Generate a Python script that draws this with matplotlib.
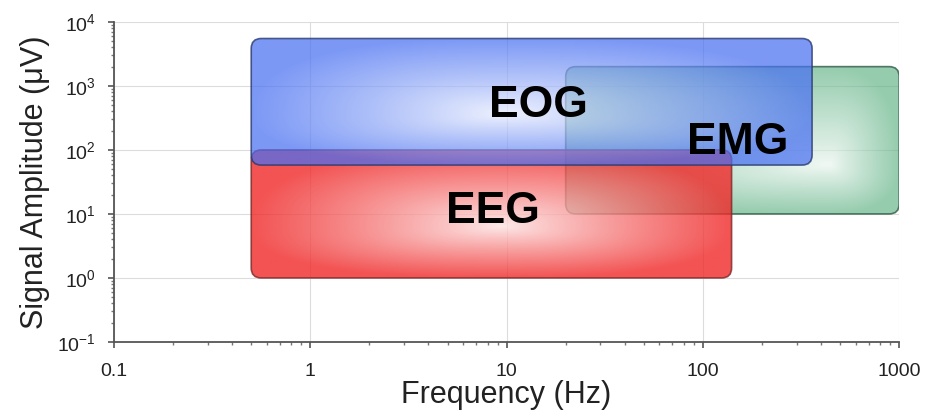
import numpy as np
import matplotlib.pyplot as plt
from matplotlib.patches import FancyBboxPatch
from matplotlib.ticker import FixedLocator, NullFormatter, LogLocator

plt.rcParams['font.family'] = ['Liberation Sans', 'DejaVu Sans']
plt.rcParams['mathtext.fontset'] = 'custom'
plt.rcParams['mathtext.rm'] = 'Liberation Sans'
plt.rcParams['mathtext.it'] = 'Liberation Sans:italic'
plt.rcParams['mathtext.bf'] = 'Liberation Sans:bold'


# =========================
# DATA (draw order: bottom -> top)
# =========================
names = ["EMG", "EEG", "EOG"]
freq_lo = [20, 0.5, 0.5]        # Hz
freq_hi = [1000, 140, 360]
amp_lo = [10, 1, 58]            # uV
amp_hi = [2000, 100, 5500]
label_x = [150, 8.5, 14.5]
label_y = [130, 11, 500]

x_ticks = [0.1, 1, 10, 100, 1000]
x_ticklabels = ["0.1", "1", "10", "100", "1000"]
y_ticks = [0.1, 1, 10, 100, 1000, 10000]
y_ticklabels = [r"$10^{-1}$", r"$10^{0}$", r"$10^{1}$", r"$10^{2}$",
                r"$10^{3}$", r"$10^{4}$"]

# style per box
base_col = [(95, 178, 132), (240, 40, 40), (72, 112, 242)]
edge_col = ["#2f5a45", "#7a2a2a", "#2a3a70"]
box_alpha = [0.66, 0.8, 0.72]
glow_ctr = [(0.79, 0.33), (0.52, 0.4), (0.45, 0.4)]   # white spot, box fraction (x, y from bottom)


# =========================
# FIGURE
# =========================
fig = plt.figure(figsize=(9.27, 4.13), dpi=100)
ax = fig.add_axes([0.123, 0.172, 0.847, 0.775])
ax.set_xscale('log')
ax.set_yscale('log')
ax.set_xlim(0.1, 1000)
ax.set_ylim(0.1, 1e4)
ax.set_autoscale_on(False)

W = 0.847 * 927
H = 0.775 * 413
r_px = 10

to_ax = ax.transData + ax.transAxes.inverted()


def gradient(rgb, cx, cy, n=200):
    u = np.linspace(0, 1, n)
    v = np.linspace(0, 1, n)
    U, V = np.meshgrid(u, v)
    dx = np.where(U < cx, (cx - U) / cx, (U - cx) / (1 - cx))
    dy = np.where(V < cy, (cy - V) / cy, (V - cy) / (1 - cy))
    p = 2.5
    t = np.clip((dx**p + dy**p)**(1 / p), 0, 1)
    t = 0.12 + 0.88 * t**0.9
    c = np.array(rgb) / 255.0
    img = 1 - (1 - c)[None, None, :] * t[..., None]
    return img


for i in range(len(names)):
    (x0, y0), (x1, y1) = to_ax.transform([(freq_lo[i], amp_lo[i]),
                                          (freq_hi[i], amp_hi[i])])
    patch = FancyBboxPatch((x0, y0), x1 - x0, y1 - y0,
                           boxstyle=f"round,pad=0,rounding_size={r_px / W}",
                           mutation_aspect=W / H,
                           transform=ax.transAxes,
                           facecolor='none', edgecolor=edge_col[i],
                           linewidth=1.2, alpha=0.8, zorder=3 + 2 * i + 1)
    ax.add_patch(patch)
    img = gradient(base_col[i], *glow_ctr[i])
    im = ax.imshow(img, extent=[x0, x1, y0, y1], transform=ax.transAxes,
                   origin='lower', aspect='auto', alpha=box_alpha[i],
                   interpolation='bilinear', zorder=3 + 2 * i)
    im.set_clip_path(patch)

for i in range(len(names)):
    ax.text(label_x[i], label_y[i], names[i], ha='center', va='center',
            fontsize=32, fontweight='bold', color='black', zorder=20)

ax.set_xlim(0.1, 1000)
ax.set_ylim(0.1, 1e4)

# axes styling
ax.xaxis.set_major_locator(FixedLocator(x_ticks))
ax.set_xticklabels(x_ticklabels)
ax.yaxis.set_major_locator(FixedLocator(y_ticks))
ax.set_yticklabels(y_ticklabels)
ax.xaxis.set_minor_locator(LogLocator(base=10, subs=np.arange(2, 10)))
ax.yaxis.set_minor_locator(LogLocator(base=10, subs=np.arange(2, 10)))
ax.xaxis.set_minor_formatter(NullFormatter())
ax.yaxis.set_minor_formatter(NullFormatter())

for s in ['top', 'right']:
    ax.spines[s].set_visible(False)
for s in ['left', 'bottom']:
    ax.spines[s].set_color('#555555')
    ax.spines[s].set_linewidth(1.3)

ax.tick_params(which='major', direction='out', length=4, width=1.2,
               color='#555555', labelsize=14, labelcolor='#222222')
ax.tick_params(axis='x', which='major', pad=11)
ax.tick_params(axis='y', which='major', pad=9)
ax.tick_params(which='minor', direction='out', length=2, width=1,
               color='#777777')

ax.grid(True, which='major', color='#dcdcdc', linewidth=0.8)
ax.set_axisbelow(True)

ax.set_xlabel("Frequency (Hz)", fontsize=22, labelpad=0, color='#222222')
ax.set_ylabel("Signal Amplitude (μV)", fontsize=22, labelpad=5, color='#222222')

fig.savefig("out.png", dpi=100)
